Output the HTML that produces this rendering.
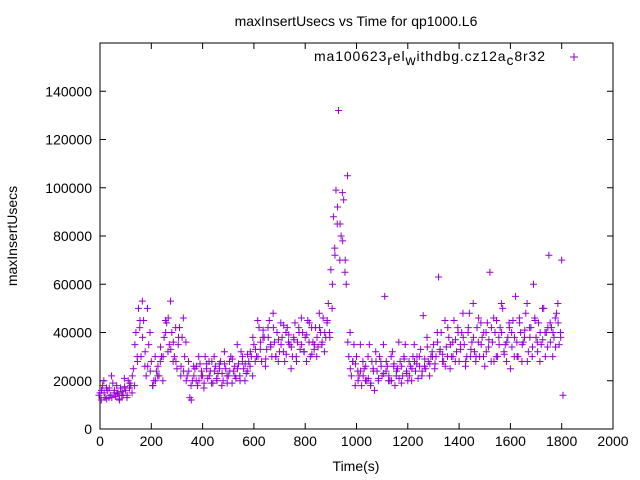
<!DOCTYPE html>
<html><head><meta charset="utf-8"><style>
html,body{margin:0;padding:0;background:#fff;}
svg{display:block;font-family:"Liberation Sans",sans-serif;}
</style></head><body>
<svg id="chart" width="640" height="480" viewBox="0 0 640 480">
<rect width="640" height="480" fill="#fff"/>
<text x="356" y="26" font-size="14" text-anchor="middle">maxInsertUsecs vs Time for qp1000.L6</text>
<text x="356" y="471" font-size="14" text-anchor="middle">Time(s)</text>
<text transform="translate(17,236) rotate(-90)" font-size="14" text-anchor="middle">maxInsertUsecs</text>
<g id="axes"></g>
<g id="points"></g>
<g>
<text x="314" y="61" font-size="14" textLength="231" lengthAdjust="spacing">ma100623<tspan dy="4">r</tspan><tspan dy="-4">el</tspan><tspan dy="4">w</tspan><tspan dy="-4">ithdbg.cz12a</tspan><tspan dy="4">c</tspan><tspan dy="-4">8r32</tspan></text>
<path d="M570,57h8M574,53v8" stroke="#9400d3" stroke-width="1"/>
</g>
</svg>
<script>
const xTicks=[0,200,400,600,800,1000,1200,1400,1600,1800,2000];
const yTicks=[0,20000,40000,60000,80000,100000,120000,140000];
const times=[0,10,20,30,40,50,60,70,80,90,100,110,120,130,140,150,160,170,180,190,200,210,220,230,240,250,260,270,280,290,300,310,320,330,340,350,360,370,380,390,400,410,420,430,440,450,460,470,480,490,500,510,520,530,540,550,560,570,580,590,600,610,620,630,640,650,660,670,680,690,700,710,720,730,740,750,760,770,780,790,800,810,820,830,840,850,860,870,880,890,900,910,920,930,940,950,960,970,980,990,1000,1010,1020,1030,1040,1050,1060,1070,1080,1090,1100,1110,1120,1130,1140,1150,1160,1170,1180,1190,1200,1210,1220,1230,1240,1250,1260,1270,1280,1290,1300,1310,1320,1330,1340,1350,1360,1370,1380,1390,1400,1410,1420,1430,1440,1450,1460,1470,1480,1490,1500,1510,1520,1530,1540,1550,1560,1570,1580,1590,1600,1610,1620,1630,1640,1650,1660,1670,1680,1690,1700,1710,1720,1730,1740,1750,1760,1770,1780,1790,1800];
const seriesA=[15000,18000,13000,16000,14000,19000,13500,15000,17000,14000,16000,20000,18000,
25000,40000,50000,30000,45000,22000,35000,28000,20000,24000,
22000,30000,38000,44000,35000,40000,30000,25000,42000,38000,30000,
22000,13000,20000,25000,18000,27000,22000,30000,21000,24000,19000,26000,23000,28000,20000,25000,22000,30000,24000,21000,27000,32000,25000,23000,28000,30000,
35000,30000,42000,28000,38000,33000,45000,30000,36000,40000,32000,38000,28000,42000,35000,30000,44000,36000,33000,40000,38000,45000,30000,36000,42000,34000,40000,46000,38000,52000,
66000,88000,99000,132000,80000,95000,60000,30000,22000,35000,
30000,22000,18000,25000,20000,35000,28000,16000,24000,30000,22000,55000,26000,20000,32000,18000,25000,28000,22000,35000,20000,26000,30000,24000,21000,33000,47000,25000,28000,30000,
35000,30000,63000,40000,28000,34000,38000,30000,45000,32000,28000,40000,35000,30000,48000,36000,32000,42000,30000,38000,26000,44000,65000,36000,40000,30000,42000,50000,35000,38000,25000,45000,55000,30000,40000,36000,48000,32000,42000,60000,38000,44000,35000,50000,40000,72000,42000,38000,48000,35000,70000];
const seriesB=[12000,20000,17000,13000,22000,15000,18000,12500,14000,21000,13000,17000,15000,
18000,30000,42000,53000,26000,50000,40000,18000,30000,22000,
28000,20000,45000,32000,53000,28000,42000,35000,22000,46000,36000,
28000,18000,26000,20000,30000,22000,17000,25000,28000,19000,30000,21000,27000,18000,32000,22000,28000,19000,26000,35000,22000,28000,20000,31000,26000,22000,
28000,45000,33000,38000,26000,42000,35000,48000,30000,28000,44000,32000,40000,36000,25000,38000,30000,42000,46000,32000,28000,36000,42000,33000,30000,48000,35000,32000,44000,40000,
50000,75000,85000,70000,98000,65000,105000,40000,28000,18000,
24000,35000,28000,20000,30000,18000,25000,32000,20000,28000,35000,24000,20000,30000,26000,22000,36000,19000,30000,24000,28000,20000,35000,27000,30000,22000,26000,38000,22000,32000,
25000,40000,32000,28000,45000,30000,25000,36000,28000,42000,35000,48000,26000,40000,30000,52000,28000,36000,44000,30000,40000,34000,28000,46000,30000,38000,52000,32000,28000,44000,40000,30000,36000,46000,28000,38000,52000,42000,30000,46000,36000,28000,50000,40000,34000,44000,30000,46000,52000,40000,14000];
const seriesC=[14000,16000,15000,12500,17000,13000,16000,14500,12000,15500,17500,14000,19000,
22000,35000,28000,45000,38000,32000,26000,24000,18000,20000,
26000,34000,30000,40000,46000,33000,36000,28000,38000,26000,24000,
20000,24000,12000,22000,26000,20000,24000,19000,27000,22000,28000,24000,20000,25000,23000,27000,19000,24000,29000,22000,25000,20000,30000,27000,24000,32000,
38000,33000,30000,36000,41000,29000,38000,34000,42000,30000,37000,35000,43000,31000,39000,34000,37000,28000,40000,35000,32000,39000,44000,31000,35000,38000,42000,36000,40000,45000,
38000,60000,72000,92000,85000,78000,70000,36000,25000,28000,
27000,20000,24000,22000,26000,21000,19000,24000,28000,21000,26000,23000,28000,22000,20000,27000,24000,21000,26000,29000,23000,22000,25000,28000,30000,26000,24000,29000,34000,27000,
30000,27000,36000,33000,31000,26000,42000,35000,30000,37000,40000,33000,38000,28000,42000,33000,38000,30000,46000,35000,40000,32000,37000,42000,28000,45000,35000,40000,31000,36000,42000,34000,38000,30000,44000,35000,41000,28000,38000,34000,45000,32000,40000,37000,30000,42000,36000,40000,34000,44000,38000];

const L=100,R=613,T=43,B=429;
const xS=v=>L+(v/2000)*(R-L);
const yS=v=>B-(v/160000)*(B-T);
const NS="http://www.w3.org/2000/svg";
const axes=document.getElementById('axes');
const pts=document.getElementById('points');
function mk(tag,attrs,parent){const e=document.createElementNS(NS,tag);for(const k in attrs)e.setAttribute(k,attrs[k]);parent.appendChild(e);return e;}
const frame=mk('rect',{x:L,y:T,width:R-L,height:B-T,fill:'none',stroke:'#000','stroke-width':1},axes);


xTicks.forEach(v=>{
  const x=xS(v);
  const tk=mk('path',{d:`M${x},${B}v-6M${x},${T}v6`,stroke:'#000'},axes);
  
  
  const t=mk('text',{x:x,y:B+17,'font-size':14,'text-anchor':'middle'},axes);
  t.textContent=v;
  
  
});
yTicks.forEach(v=>{
  const y=yS(v);
  const tk=mk('path',{d:`M${L},${y}h6M${R},${y}h-6`,stroke:'#000'},axes);
  
  
  const t=mk('text',{x:L-8,y:y+5,'font-size':14,'text-anchor':'end'},axes);
  t.textContent=v;
  
  
});
function plot(vals,off){
  vals.forEach((v,i)=>{
    if(i>=times.length)return;
    const x=xS(times[i]+off),y=yS(v);
    const p=mk('path',{d:`M${x-3.5},${y}h7M${x},${y-3.5}v7`,stroke:'#9400d3','stroke-width':1},pts);
    
    
  });
}
plot(seriesA,0);
plot(seriesB,5);
plot(seriesC,-4);
</script>
</body></html>
